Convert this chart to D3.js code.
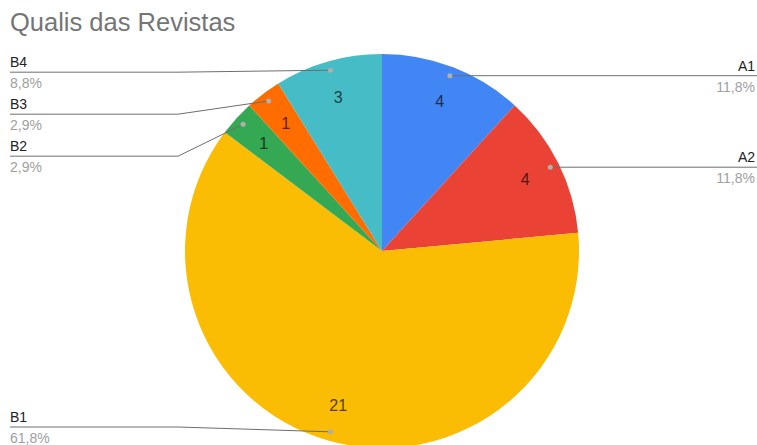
<!DOCTYPE html>
<html>
<head>
<meta charset="utf-8">
<script src="https://cdn.jsdelivr.net/npm/d3@7"></script>
<style>
  html, body { margin: 0; padding: 0; background: #fff; }
  svg { display: block; font-family: "Liberation Sans", Arial, sans-serif; }
</style>
</head>
<body>
<svg id="chart" width="757" height="445"></svg>
<script>
// Journal counts by Qualis rating
const categories = ["A1", "A2", "B1", "B2", "B3", "B4"];
const counts = [4, 4, 21, 1, 1, 3];
const colors = ["#4285F4", "#EA4335", "#FBBC04", "#34A853", "#FF6D01", "#46BDC6"];
const title = "Qualis das Revistas";

const W = 757, H = 445;
const cx = 382, cy = 251, R = 197;

const svg = d3.select("#chart");

svg.append("text")
  .attr("x", 10).attr("y", 31)
  .attr("font-size", 25.5)
  .attr("fill", "#757575")
  .text(title);

const total = d3.sum(counts);
const data = categories.map((c, i) => ({ name: c, value: counts[i], color: colors[i] }));

const pie = d3.pie().value(d => d.value).sort(null);
const arcs = pie(data);

const arc = d3.arc().innerRadius(0).outerRadius(R);
const labelArc = d3.arc().innerRadius(160).outerRadius(160);
const dotArc = d3.arc().innerRadius(188).outerRadius(188);

const g = svg.append("g").attr("transform", `translate(${cx},${cy})`);

g.selectAll("path.slice")
  .data(arcs)
  .join("path")
  .attr("class", "slice")
  .attr("d", arc)
  .attr("fill", d => d.data.color);

g.selectAll("text.val")
  .data(arcs)
  .join("text")
  .attr("class", "val")
  .attr("transform", d => `translate(${labelArc.centroid(d)})`)
  .attr("text-anchor", "middle")
  .attr("dy", "0.35em")
  .attr("font-size", 16)
  .attr("fill", d => d3.color(d.data.color).darker(3))
  .text(d => d.value);

// Leader lines and outside labels
const fmt = v => (v * 100).toFixed(1).replace(".", ",") + "%";
const items = arcs.map(d => {
  const [x, y] = dotArc.centroid(d);
  const mid = (d.startAngle + d.endAngle) / 2;
  return { d, x: x + cx, y: y + cy, right: mid < Math.PI };
});

// Stack left-side labels so they do not overlap
const left = items.filter(it => !it.right).sort((a, b) => a.y - b.y);
let prev = -Infinity;
left.forEach(it => {
  it.lineY = Math.min(Math.max(it.y + 2, prev + 42), 427);
  prev = it.lineY;
});
items.filter(it => it.right).forEach(it => { it.lineY = it.y; });

const lines = svg.append("g");
items.forEach(it => {
  let pts;
  if (it.right) {
    pts = [[it.x, it.y], [W, it.lineY]];
  } else {
    pts = [[10, it.lineY], [178, it.lineY], [it.x, it.y]];
  }
  lines.append("path")
    .attr("d", d3.line()(pts))
    .attr("fill", "none")
    .attr("stroke", "#6e6e6e")
    .attr("stroke-width", 1);
  lines.append("circle")
    .attr("cx", it.x).attr("cy", it.y).attr("r", 2.5)
    .attr("fill", "#b0b0b0");

  const tx = it.right ? W - 2 : 10;
  const anchor = it.right ? "end" : "start";
  lines.append("text")
    .attr("x", tx).attr("y", it.lineY - 5)
    .attr("text-anchor", anchor)
    .attr("font-size", 14)
    .attr("fill", "#222")
    .text(it.d.data.name);
  lines.append("text")
    .attr("x", tx).attr("y", it.lineY + 16)
    .attr("text-anchor", anchor)
    .attr("font-size", 14)
    .attr("fill", "#a0a0a0")
    .text(fmt(it.d.value / total));
});
</script>
</body>
</html>
